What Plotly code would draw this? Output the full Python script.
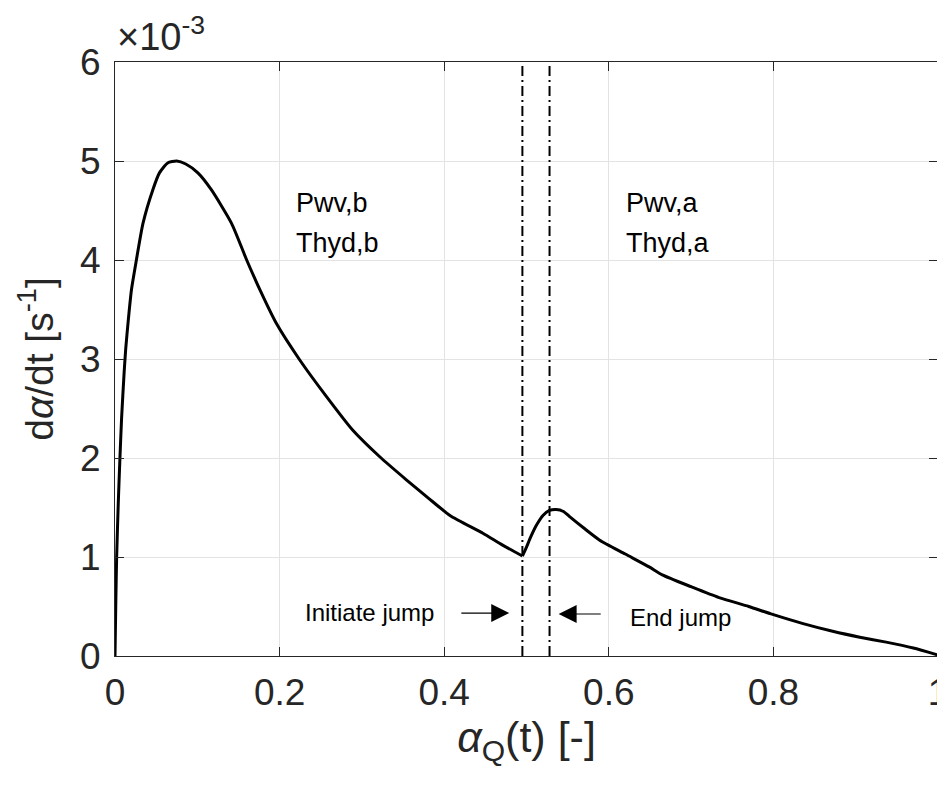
import plotly.graph_objects as go

# Data
alpha_q = [0.0, 0.001, 0.002, 0.004, 0.006, 0.008, 0.011, 0.013, 0.016, 0.020, 0.026, 0.034,
           0.046, 0.054, 0.064, 0.075, 0.086, 0.1007, 0.117, 0.1416, 0.160, 0.176,
           0.196, 0.2245, 0.257, 0.289, 0.322, 0.354, 0.380, 0.407, 0.447, 0.471,
           0.495, 0.500, 0.505, 0.512, 0.520, 0.528, 0.536, 0.545, 0.552, 0.570,
           0.589, 0.620, 0.649, 0.665, 0.700, 0.734, 0.770, 0.799, 0.835, 0.872,
           0.905, 0.937, 0.970, 1.000]
rate = [0.0, 0.55, 1.00, 1.55, 2.00, 2.40, 2.85, 3.10, 3.38, 3.70, 4.00, 4.37,
        4.71, 4.88, 4.98, 5.00, 4.97, 4.88, 4.71, 4.37, 4.00, 3.70,
        3.36, 2.99, 2.62, 2.28, 2.01, 1.78, 1.60, 1.42, 1.24, 1.12,
        1.01, 1.10, 1.20, 1.32, 1.42, 1.47, 1.48, 1.46, 1.41, 1.29,
        1.17, 1.03, 0.90, 0.82, 0.70, 0.59, 0.50, 0.42, 0.33, 0.25,
        0.19, 0.14, 0.08, 0.01]
rate = [v * 1e-3 for v in rate]

jump_start = 0.495
jump_end = 0.528

x_ticks = [0, 0.2, 0.4, 0.6, 0.8, 1]
x_tick_labels = ["0", "0.2", "0.4", "0.6", "0.8", "1"]
y_ticks = [0, 1e-3, 2e-3, 3e-3, 4e-3, 5e-3, 6e-3]
y_tick_labels = ["0", "1", "2", "3", "4", "5", "6"]

FONT = "Liberation Sans, Arial, Helvetica, sans-serif"
AX = "#262626"

fig = go.Figure()
# split at the jump start so the sharp minimum stays sharp while the rest is smooth
k = alpha_q.index(jump_start)
for xs, ys in ((alpha_q[:k + 1], rate[:k + 1]), (alpha_q[k:], rate[k:])):
    fig.add_trace(go.Scatter(x=xs, y=ys, mode="lines",
                             line=dict(color="black", width=3, shape="spline", smoothing=0.6),
                             showlegend=False, hoverinfo="skip"))
for xv in (jump_start, jump_end):
    fig.add_trace(go.Scatter(x=[xv, xv], y=[0, 6e-3], mode="lines",
                             line=dict(color="black", width=2, dash="10px,4px,2px,4px"),
                             showlegend=False, hoverinfo="skip"))

big = dict(family=FONT, size=27, color="black")
small = dict(family=FONT, size=24, color="black")
anns = [
    dict(x=0.218, y=4.58e-3, text="Pwv,b", f=big),
    dict(x=0.218, y=4.17e-3, text="Thyd,b", f=big),
    dict(x=0.619, y=4.58e-3, text="Pwv,a", f=big),
    dict(x=0.619, y=4.17e-3, text="Thyd,a", f=big),
    dict(x=0.228, y=0.44e-3, text="Initiate jump", f=small),
    dict(x=0.623, y=0.39e-3, text="End jump", f=small),
]
for a in anns:
    fig.add_annotation(x=a["x"], y=a["y"], text=a["text"], showarrow=False,
                       xanchor="left", yanchor="middle", font=a["f"])

# arrows
fig.add_annotation(x=0.479, y=0.434e-3, ax=0.419, ay=0.434e-3, axref="x", ayref="y",
                   text="", showarrow=True, arrowhead=2, arrowsize=3, arrowwidth=1.2,
                   arrowcolor="black")
fig.add_annotation(x=0.539, y=0.424e-3, ax=0.592, ay=0.424e-3, axref="x", ayref="y",
                   text="", showarrow=True, arrowhead=2, arrowsize=3, arrowwidth=1.2,
                   arrowcolor="black")

# exponent label
fig.add_annotation(xref="paper", yref="paper", x=0.0, y=1.0, yshift=2,
                   text="×10<sup>-3</sup>", showarrow=False, xanchor="left", yanchor="bottom",
                   font=dict(family=FONT, size=38, color=AX))

axis_common = dict(showline=True, linecolor=AX, linewidth=1, mirror="ticks",
                   ticks="inside", ticklen=9, tickcolor=AX, tickwidth=1,
                   showgrid=True, gridcolor="#e3e3e3", gridwidth=1, zeroline=False,
                   automargin=False, ticklabeloverflow="allow",
                   tickfont=dict(family=FONT, size=37, color=AX))

fig.update_xaxes(range=[0, 1], tickvals=x_ticks, ticktext=x_tick_labels,
                 ticklabelstandoff=4,
                 title=dict(text="<i>α</i><sub>Q</sub>(t) [-]", standoff=6,
                            font=dict(family=FONT, size=43, color=AX)),
                 **axis_common)
fig.update_yaxes(range=[0, 6e-3], tickvals=y_ticks, ticktext=y_tick_labels,
                 ticklabelstandoff=6,
                 title=dict(text="d<i>α</i>/dt [s<sup>-1</sup>]", standoff=14,
                            font=dict(family=FONT, size=39, color=AX)),
                 **axis_common)

# page body adds an 8px offset, so the figure is 8px smaller and margins shifted
fig.update_layout(width=937, height=779, plot_bgcolor="white", paper_bgcolor="white",
                  margin=dict(l=107, r=7, t=54, b=131, autoexpand=False), showlegend=False)

fig.write_html("out.html")
